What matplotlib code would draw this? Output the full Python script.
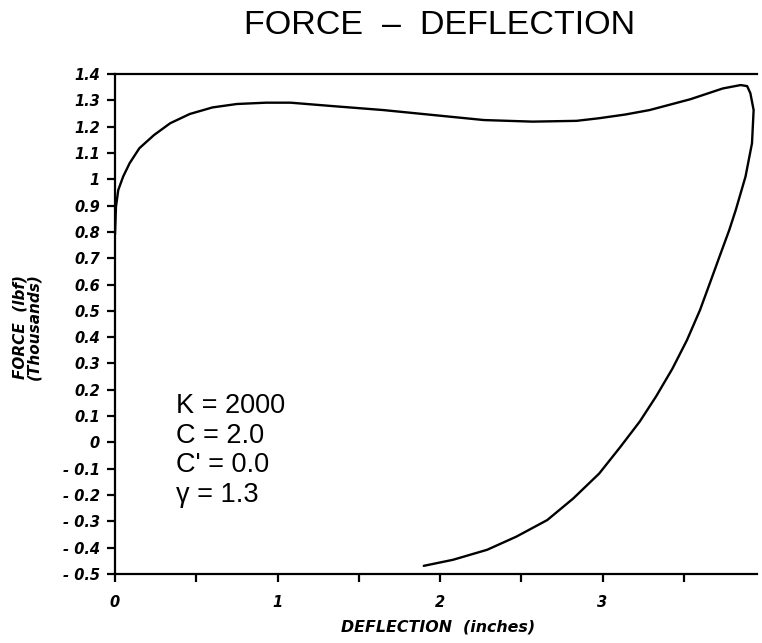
import matplotlib
matplotlib.use("Agg")
import matplotlib.pyplot as plt
from matplotlib.ticker import FixedLocator

# Data
deflection = [0.00, 0.006, 0.02, 0.05, 0.09, 0.15, 0.24, 0.34, 0.46, 0.60, 0.75, 0.93,
              1.08, 1.34, 1.65, 1.96, 2.27, 2.57, 2.84, 2.98, 3.14, 3.29, 3.54, 3.74,
              3.85, 3.89, 3.91, 3.93, 3.92, 3.88, 3.82, 3.78, 3.72, 3.66, 3.60, 3.52,
              3.43, 3.33, 3.23, 3.11, 2.98, 2.82, 2.66, 2.47, 2.29, 2.08, 1.90]
force = [0.79, 0.896, 0.959, 1.01, 1.061, 1.118, 1.168, 1.213, 1.248, 1.273, 1.286, 1.291,
         1.291, 1.278, 1.263, 1.244, 1.225, 1.219, 1.222, 1.232, 1.246, 1.263, 1.304, 1.345,
         1.358, 1.354, 1.327, 1.263, 1.137, 1.01, 0.883, 0.807, 0.706, 0.604, 0.503, 0.389,
         0.28, 0.175, 0.08, -0.017, -0.118, -0.213, -0.295, -0.358, -0.408, -0.446, -0.469]

y_ticks = [1.4, 1.3, 1.2, 1.1, 1.0, 0.9, 0.8, 0.7, 0.6, 0.5, 0.4, 0.3, 0.2, 0.1, 0.0,
           -0.1, -0.2, -0.3, -0.4, -0.5]
y_labels = ["1.4", "1.3", "1.2", "1.1", "1", "0.9", "0.8", "0.7", "0.6", "0.5", "0.4",
            "0.3", "0.2", "0.1", "0", "- 0.1", "- 0.2", "- 0.3", "- 0.4", "- 0.5"]
x_ticks = [0, 1, 2, 3]
x_labels = ["0", "1", "2", "3"]
x_minor = [0.5, 1.5, 2.5, 3.5]

params_text = "K = 2000\nC = 2.0\nC' = 0.0\nγ = 1.3"

label_font = "DejaVu Sans"

fig = plt.figure(figsize=(7.62, 6.43), dpi=100)
ax = fig.add_axes([115 / 762, 69 / 643, (757 - 115) / 762, 500 / 643])

ax.plot(deflection, force, color="black", linewidth=1.7,
        solid_capstyle="round", solid_joinstyle="round")

ax.set_xlim(0, (757 - 115) / 162.5)
ax.set_ylim(-0.5, 1.4)

ax.spines["right"].set_visible(False)
for s in ["left", "bottom", "top"]:
    ax.spines[s].set_linewidth(1.6)

ax.yaxis.set_major_locator(FixedLocator(y_ticks))
ax.set_yticklabels(y_labels)
ax.xaxis.set_major_locator(FixedLocator(x_ticks))
ax.set_xticklabels(x_labels)
ax.xaxis.set_minor_locator(FixedLocator(x_minor))

for lab in ax.get_yticklabels() + ax.get_xticklabels():
    lab.set_fontfamily(label_font)
    lab.set_fontweight("bold")
    lab.set_fontstyle("oblique")
    lab.set_fontsize(10.5)

ax.tick_params(axis="both", which="both", direction="out", length=6, width=1.6)
ax.tick_params(axis="y", pad=5)
ax.tick_params(axis="x", pad=9)

fig.text(440 / 762, 1 - 25 / 643, "FORCE  –  DEFLECTION", ha="center", va="center",
         fontsize=24.5, family="Liberation Sans")

fig.text(438 / 762, 1 - 627 / 643, "DEFLECTION  (inches)", ha="center", va="center",
         fontsize=11.4, family=label_font, weight="bold", style="oblique")

fig.text(27 / 762, 1 - 327 / 643, "FORCE  (lbf)\n(Thousands)", ha="center", va="center",
         rotation=90, fontsize=11, family=label_font, weight="bold", style="oblique",
         linespacing=0.9)

fig.text(176 / 762, 1 - 393 / 643, params_text,
         ha="left", va="top", fontsize=19.5, family="Liberation Sans", linespacing=1.18)

fig.savefig("out.png", dpi=100)
